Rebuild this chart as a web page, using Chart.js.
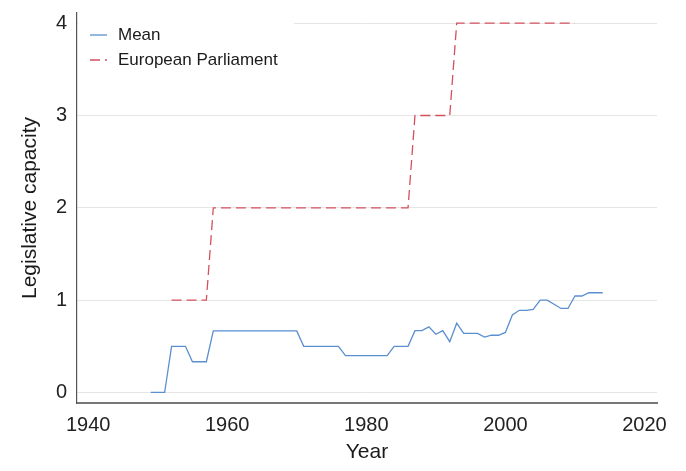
<!DOCTYPE html>
<html>
<head>
<meta charset="utf-8">
<script src="https://cdn.jsdelivr.net/npm/chart.js@4.4.1/dist/chart.umd.min.js"></script>
<style>
  html, body { margin: 0; padding: 0; background: #fff; }
  #wrap { width: 686px; height: 471px; }
</style>
</head>
<body>
<div id="wrap"><canvas id="chart" width="686" height="471"></canvas></div>
<script>
const X_TICKS = [1940, 1960, 1980, 2000, 2020]
const Y_TICKS = [0, 1, 2, 3, 4]

// mean legislative capacity, one value per year from 1949
const MEAN_FIRST_YEAR = 1949
const MEAN_VALUES = [
  0, 0, 0,                                                   // 1949-1951
  0.5, 0.5, 0.5,                                             // 1952-1954
  0.333, 0.333, 0.333,                                       // 1955-1957
  0.667, 0.667, 0.667, 0.667, 0.667, 0.667, 0.667,           // 1958-1964
  0.667, 0.667, 0.667, 0.667, 0.667, 0.667,                  // 1965-1970
  0.5, 0.5, 0.5, 0.5, 0.5, 0.5,                              // 1971-1976
  0.4, 0.4, 0.4, 0.4, 0.4, 0.4, 0.4,                         // 1977-1983
  0.5, 0.5, 0.5,                                             // 1984-1986
  0.67, 0.67, 0.71, 0.63, 0.67, 0.55, 0.75,                  // 1987-1993
  0.64, 0.64, 0.64, 0.60, 0.62, 0.62, 0.65,                  // 1994-2000
  0.84, 0.89, 0.89, 0.90, 1.0, 1.0, 0.955,                   // 2001-2007
  0.91, 0.91, 1.045, 1.045, 1.08, 1.08, 1.08                 // 2008-2014
]

// European Parliament, one value per year from 1952
const EP_FIRST_YEAR = 1952
const EP_VALUES = [
  1, 1, 1, 1, 1, 1,                                          // 1952-1957
  2, 2, 2, 2, 2, 2, 2, 2, 2, 2, 2, 2, 2, 2, 2,               // 1958-1972
  2, 2, 2, 2, 2, 2, 2, 2, 2, 2, 2, 2, 2, 2,                  // 1973-1986
  3, 3, 3, 3, 3, 3,                                          // 1987-1992
  4, 4, 4, 4, 4, 4, 4, 4, 4, 4, 4, 4, 4, 4, 4, 4, 4, 4       // 1993-2010
]

const FONT = '"Liberation Sans", Arial, sans-serif'

const toPoints = (first, vals) => vals.map((v, i) => ({ x: first + i, y: v }))

// keep the plot box fixed, whatever room the tick labels ask for
const noPad = s => { s.paddingTop = 0; s.paddingBottom = 0; s.paddingLeft = 0; s.paddingRight = 0 }

const legendBox = {
  id: 'legendBox',
  afterDraw(chart) {
    const { ctx, chartArea } = chart
    ctx.save()
    ctx.fillStyle = '#fff'
    ctx.fillRect(chartArea.left + 1, chartArea.top + 2, 216, 60)
    chart.data.datasets.forEach((ds, i) => {
      const y = 35 + i * 25
      ctx.strokeStyle = ds.borderColor
      ctx.lineWidth = ds.borderWidth
      ctx.setLineDash(ds.borderDash || [])
      ctx.beginPath(); ctx.moveTo(90, y); ctx.lineTo(107, y); ctx.stroke()
      ctx.setLineDash([])
      ctx.fillStyle = '#1a1a1a'
      ctx.font = `17px ${FONT}`
      ctx.textBaseline = 'middle'
      ctx.textAlign = 'left'
      ctx.fillText(ds.label, 118, y)
    })
    ctx.restore()
  }
}

new Chart(document.getElementById('chart').getContext('2d'), {
  type: 'line',
  data: {
    datasets: [{
      label: 'Mean',
      data: toPoints(MEAN_FIRST_YEAR, MEAN_VALUES),
      borderColor: '#5b8fd0',
      borderWidth: 1.3,
      pointRadius: 0,
      tension: 0,
      fill: false
    }, {
      label: 'European Parliament',
      data: toPoints(EP_FIRST_YEAR, EP_VALUES),
      borderColor: '#d4505f',
      borderWidth: 1.3,
      borderDash: [10, 5],
      pointRadius: 0,
      tension: 0,
      fill: false
    }]
  },
  options: {
    responsive: false,
    animation: false,
    layout: { padding: { top: 13, right: 29, left: 0, bottom: 0 } },
    plugins: { legend: { display: false }, tooltip: { enabled: false } },
    scales: {
      x: {
        type: 'linear',
        min: 1938.4,
        max: 2021.8,
        afterBuildTicks: s => { s.ticks = X_TICKS.map(v => ({ value: v })) },
        afterFit: s => { s.height = 68; noPad(s) },
        grid: { display: false, drawTicks: false },
        border: { display: true, color: '#777', width: 2 },
        ticks: {
          color: '#222', padding: 10, maxRotation: 0,
          font: { family: FONT, size: 20 },
          callback: v => String(v)
        },
        title: {
          display: true, text: 'Year', color: '#1a1a1a',
          padding: { top: 0, bottom: 6 }, font: { family: FONT, size: 21 }
        }
      },
      y: {
        min: -0.114,
        max: 4.11,
        afterBuildTicks: s => { s.ticks = Y_TICKS.map(v => ({ value: v })) },
        afterFit: s => { s.width = 77; noPad(s) },
        grid: { color: '#e6e6e6', lineWidth: 1, drawTicks: false },
        border: { display: true, color: '#555', width: 1.2 },
        ticks: { color: '#222', padding: 10, font: { family: FONT, size: 20 } },
        title: {
          display: true, text: 'Legislative capacity', color: '#1a1a1a',
          padding: { top: 18, bottom: 0 }, font: { family: FONT, size: 21 }
        }
      }
    }
  },
  plugins: [legendBox]
})
</script>
</body>
</html>
